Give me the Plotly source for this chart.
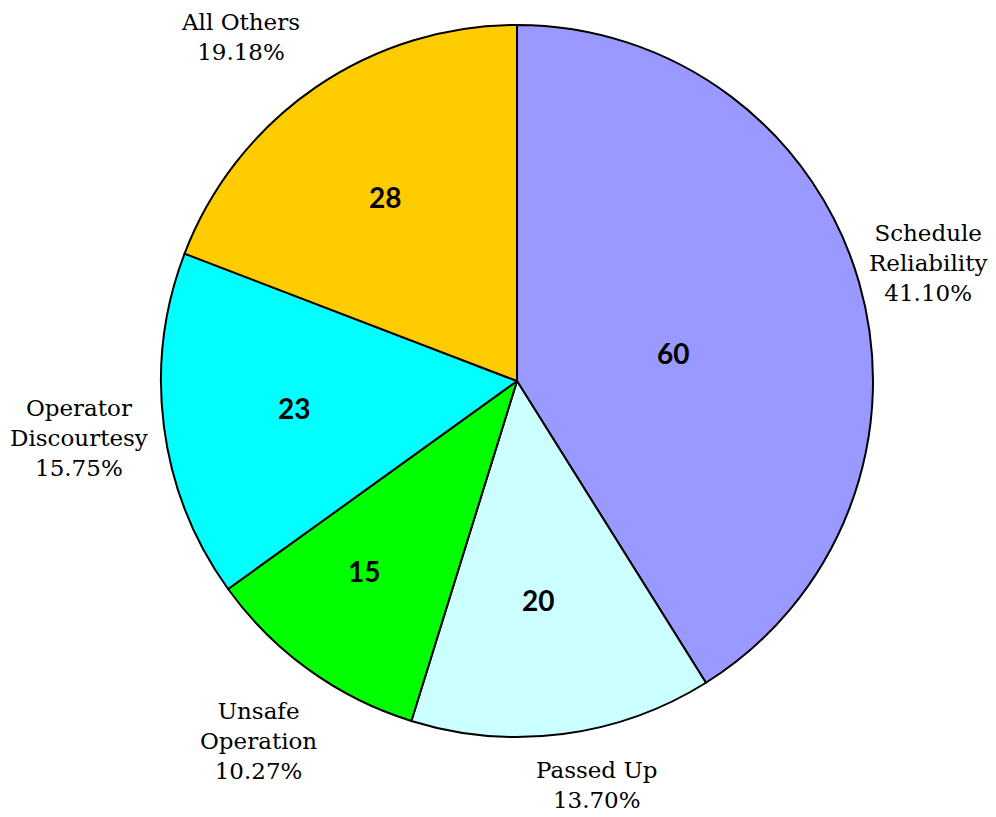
import math
import plotly.graph_objects as go

categories = ["Schedule<br>Reliability", "Passed Up", "Unsafe<br>Operation", "Operator<br>Discourtesy", "All Others"]
values = [60, 20, 15, 23, 28]
colors = ["#9999FF", "#CCFFFF", "#00FF00", "#00FFFF", "#FFCC00"]

W, H = 996, 817
OFF = 8  # page margin offset in the screenshot
cx, cy, R = 517 - OFF, 381 - OFF, 356  # pixel geometry of pie in figure coords

dom_x = [(cx - R) / W, (cx + R) / W]
dom_y = [1 - (cy + R) / H, 1 - (cy - R) / H]

fig = go.Figure(go.Pie(
    labels=categories,
    values=values,
    sort=False,
    direction="clockwise",
    rotation=0,
    marker=dict(colors=colors, line=dict(color="black", width=2)),
    textinfo="none",
    domain=dict(x=dom_x, y=dom_y),
    showlegend=False,
    hoverinfo="label+value+percent",
))

total = sum(values)
# label placement styles: (radial factor, angle tweak in degrees)
outer_r = [1.20, 1.157, 1.245, 1.24, 1.24]
outer_da = [0.0, -3.8, 0.0, 0.0, -4.2]
inner_r = [0.445, 0.618, 0.685, 0.63, 0.636]
inner_da = [5.8, 1.9, 3.0, 0.5, -1.2]

cum = 0
annos = []
for i, (cat, v) in enumerate(zip(categories, values)):
    mid_deg = (cum + v / 2) / total * 360
    cum += v
    pct = v / total * 100
    a = math.radians(mid_deg + outer_da[i])
    px = cx + outer_r[i] * R * math.sin(a)
    py = cy - outer_r[i] * R * math.cos(a)
    annos.append(dict(
        x=px / W, y=1 - py / H, xref="paper", yref="paper",
        text=f"{cat}<br>{pct:.2f}%", showarrow=False,
        font=dict(family="DejaVu Serif, serif", size=23, color="black"),
        align="center", xanchor="center", yanchor="middle",
    ))
    a = math.radians(mid_deg + inner_da[i])
    px = cx + inner_r[i] * R * math.sin(a)
    py = cy - inner_r[i] * R * math.cos(a)
    annos.append(dict(
        x=px / W, y=1 - py / H, xref="paper", yref="paper",
        text=f"<b>{v}</b>", showarrow=False,
        font=dict(family="Lato, DejaVu Sans, sans-serif", size=28, color="black"),
        align="center", xanchor="center", yanchor="middle",
    ))

fig.update_layout(
    width=W, height=H,
    margin=dict(l=0, r=0, t=0, b=0),
    paper_bgcolor="white", plot_bgcolor="white",
    annotations=annos,
)

fig.write_html("out.html")
